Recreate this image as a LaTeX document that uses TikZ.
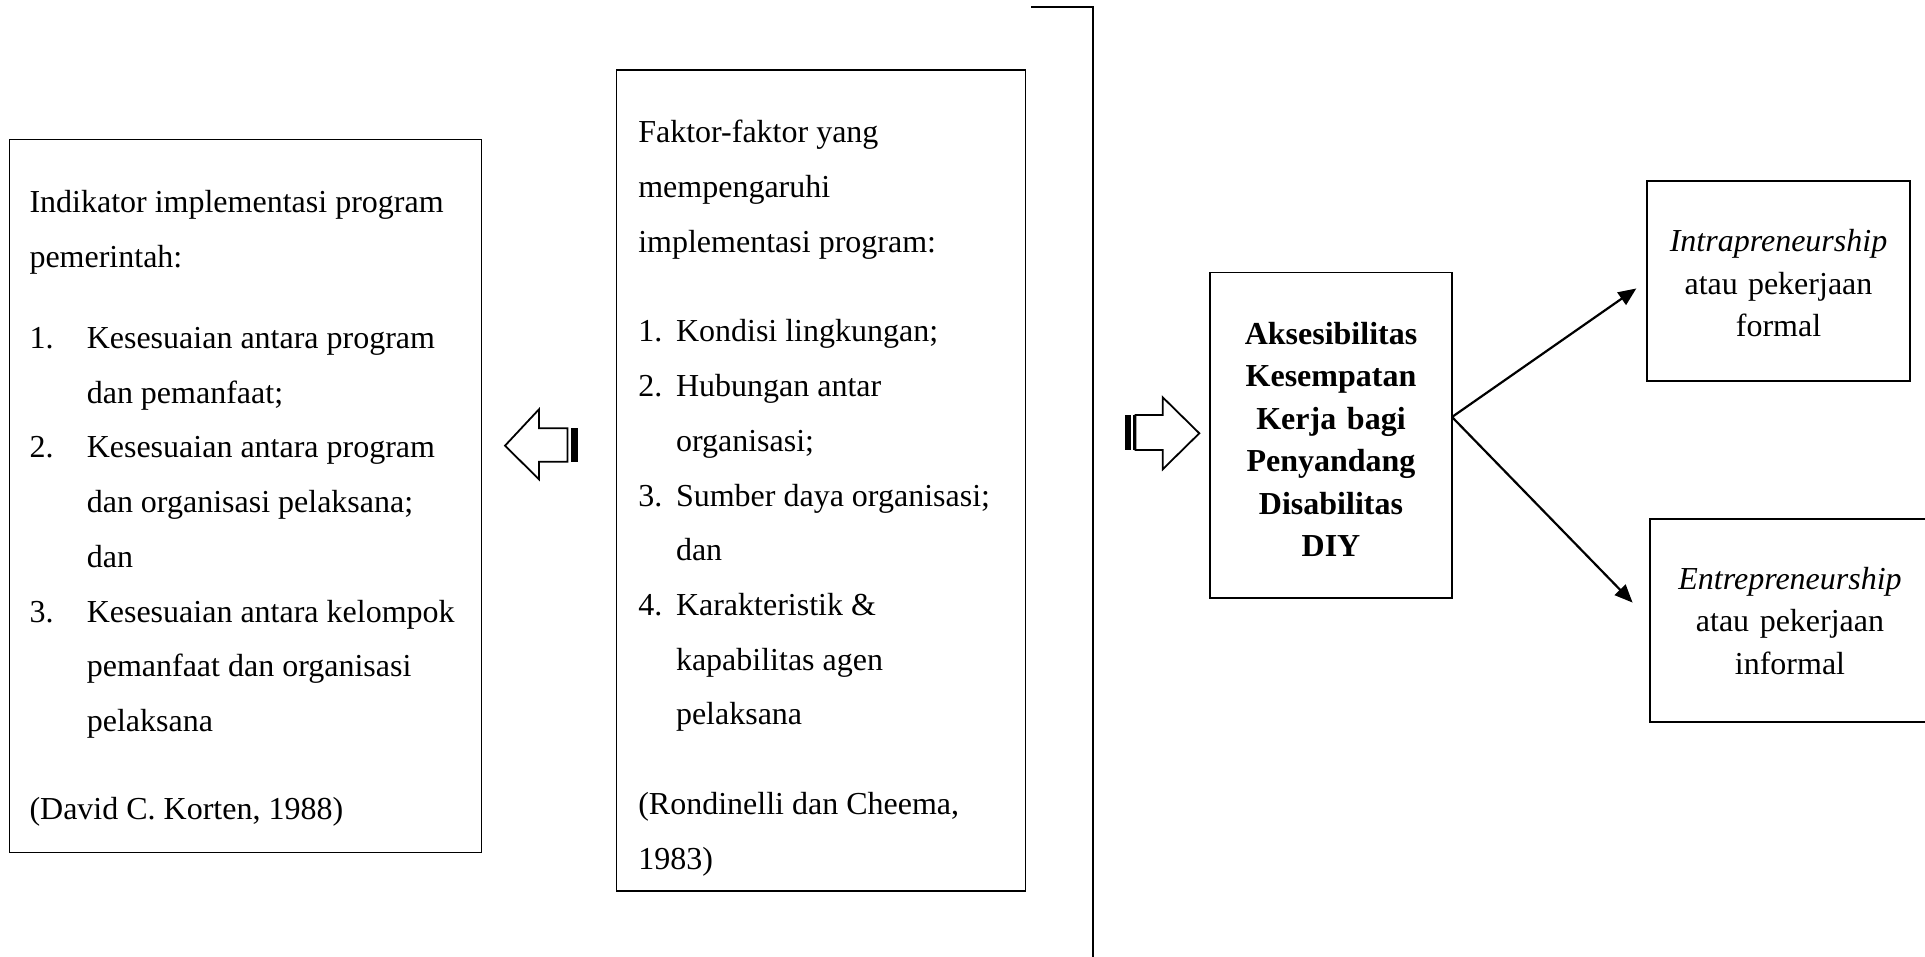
\documentclass[tikz,border=0pt]{standalone}
\usepackage{fontspec}
\setmainfont{Liberation Serif}
\usetikzlibrary{arrows.meta}
% natural interword space of the current font
\newcommand\natspace{\spaceskip=\fontdimen2\font plus \fontdimen3\font minus \fontdimen4\font\relax}
\begin{document}
\begin{tikzpicture}[x=1pt,y=-1pt,
  box/.style={draw, line width=1.3pt, inner sep=0pt, outer sep=0pt},
  bodytext/.style={inner sep=0pt, outer sep=0pt, align=left,
    font={\fontsize{32}{54.7}\selectfont}},
  ctrtext/.style={inner sep=0pt, outer sep=0pt, align=center,
    font={\fontsize{32}{42.5}\selectfont}},
  blockarrow/.style={draw, line width=1.8pt, fill=white, line join=miter},
  stripe/.style={fill=black},
  link/.style={line width=2.2pt, -{Triangle[length=18pt,width=15pt]}},
  rule/.style={line width=1.5pt}
]
\useasboundingbox (0,0) rectangle (1925,957);
\fill[white] (0,0) rectangle (1925,957);
\clip (0,0) rectangle (1925,957);

% boxes
\node[box, minimum width=472pt, minimum height=713.2pt] (korten) at (245.5,495.9) {};
\node[box, minimum width=409pt, minimum height=821pt] (faktor) at (821.2,480.5) {};
\node[box, minimum width=242pt, minimum height=325.5pt] (akses) at (1331,435.25) {};
\node[box, minimum width=263pt, minimum height=200pt] (intra) at (1778.5,281) {};
\node[box, minimum width=280pt, minimum height=203pt] (entre) at (1790,620.5) {};

% text of the left box
\node[bodytext, text width=448pt, anchor=base west] (kortentext) at (29.5,212.5) {\natspace
Indikator implementasi program\\
pemerintah:\\[26.7pt]
\makebox[57.3pt][l]{1.}Kesesuaian antara program\\
\hspace*{57.3pt}dan pemanfaat;\\
\makebox[57.3pt][l]{2.}Kesesuaian antara program\\
\hspace*{57.3pt}dan organisasi pelaksana;\\
\hspace*{57.3pt}dan\\
\makebox[57.3pt][l]{3.}Kesesuaian antara kelompok\\
\hspace*{57.3pt}pemanfaat dan organisasi\\
\hspace*{57.3pt}pelaksana\\[33.6pt]
(David C. Korten, 1988)};

% text of the middle box
\node[bodytext, text width=383pt, anchor=base west] (faktortext) at (638.3,143) {\natspace
Faktor-faktor yang\\
mempengaruhi\\
implementasi program:\\[34.9pt]
\makebox[37.7pt][l]{1.}Kondisi lingkungan;\\
\makebox[37.7pt][l]{2.}Hubungan antar\\
\hspace*{37.7pt}organisasi;\\
\makebox[37.7pt][l]{3.}Sumber daya organisasi;\\
\hspace*{37.7pt}dan\\
\makebox[37.7pt][l]{4.}Karakteristik \&\\
\hspace*{37.7pt}kapabilitas agen\\
\hspace*{37.7pt}pelaksana\\[34.9pt]
(Rondinelli dan Cheema,\\
1983)};

% central box
\node[ctrtext, text width=236pt, anchor=base, font={\fontsize{32}{42.5}\selectfont\bfseries}] (aksestext) at (1331,344.5) {\natspace
Aksesibilitas\\ Kesempatan\\ Kerja bagi\\ Penyandang\\ Disabilitas\\ DIY};

% outcome boxes
\node[ctrtext, text width=255pt, anchor=base] (intratext) at (1778.5,251.7) {\natspace
\textit{Intrapreneurship}\\ atau pekerjaan\\ formal};
\node[ctrtext, text width=270pt, anchor=base] (entretext) at (1790,589) {\natspace
\textit{Entrepreneurship}\\ atau pekerjaan\\ informal};

% block arrow pointing left
\draw[blockarrow] (505,445.7) -- (539,409.3) -- (539,428.3) -- (567.5,428.3)
  -- (567.5,461.7) -- (539,461.7) -- (539,479.3) -- cycle;
\fill[stripe] (571,428.3) rectangle (578.3,461.7);

% block arrow pointing right
\draw[blockarrow] (1199.3,433.3) -- (1162.7,397.3) -- (1162.7,415) -- (1135.5,415)
  -- (1135.5,450) -- (1162.7,450) -- (1162.7,469.3) -- cycle;
\fill[stripe] (1125,415) rectangle (1130.7,450);
\fill[stripe] (1132.7,415) rectangle (1134.8,450);

% bracket line
\coordinate (bracketL) at (1031,7);
\coordinate (bracketT) at (1093,7);
\coordinate (bracketB) at (1093,957);
\draw[rule] (bracketL) -- (bracketT) -- (bracketB);

% connectors to the outcomes
\coordinate (fork) at (1452,417);
\draw[link, shorten >=13pt] (fork) -- (intra.west);
\draw[link, shorten >=25pt] (fork) -- (entre.west);
\end{tikzpicture}
\end{document}
